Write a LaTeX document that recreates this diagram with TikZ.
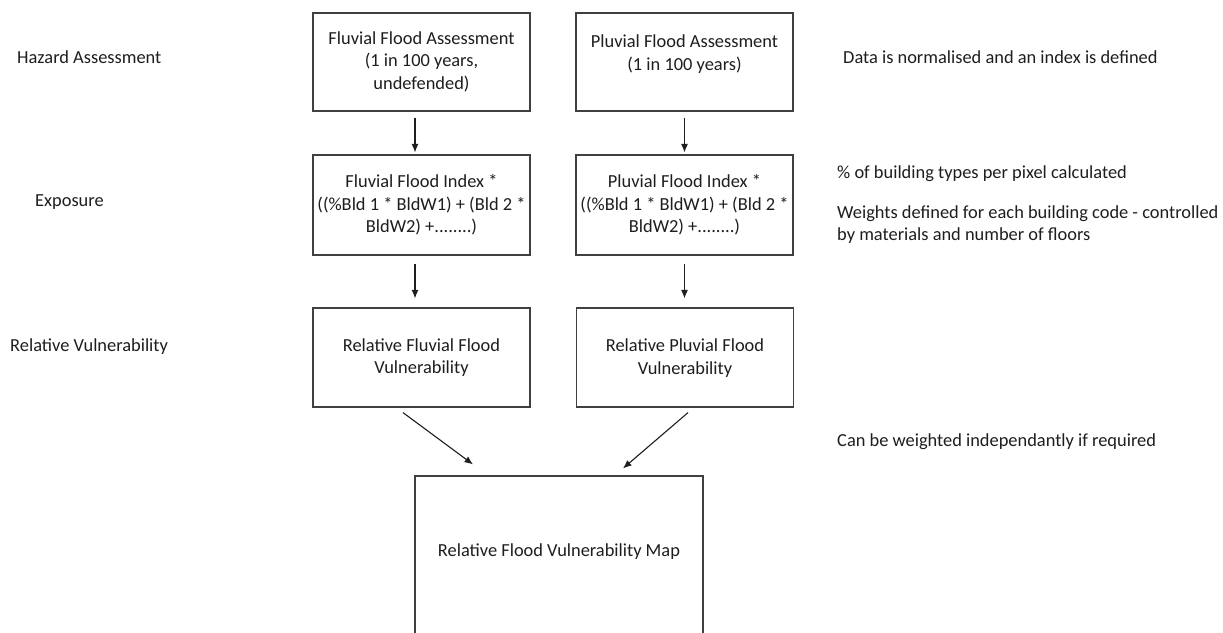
\documentclass[tikz,border=0pt]{standalone}
\usepackage{fontspec}
\setmainfont{Carlito}
\usetikzlibrary{arrows.meta,calc}
\definecolor{edge}{HTML}{404040}
\definecolor{ink}{HTML}{1E1E1E}
\begin{document}
\begin{tikzpicture}[x=1pt,y=-1pt,
  font=\fontsize{18.4}{22.5}\selectfont,
  box/.style={draw=edge, line width=1.2pt, minimum width=217pt, minimum height=98pt, inner sep=0pt, align=center, text=ink},
  lab/.style={anchor=base west, inner sep=0pt, text=ink},
  arr/.style={draw=ink, line width=1.1pt, -{Latex[length=8.5pt,width=7pt]}}]
\useasboundingbox (0,0) rectangle (1223,632);
\fill[white] (0,0) rectangle (1223,632);
% boxes
\node[box] (b1) at (421.5,62) {\rule{0pt}{6pt}\\[-16pt]Fluvial Flood Assessment\\(1 in 100 years,\\undefended)};
\node[box] (b2) at (684.5,62) {Pluvial Flood Assessment\\(1 in 100 years)\\[-10pt]\strut};
\node[box, minimum height=100pt] (b3) at (421.5,205) {Fluvial Flood Index *\\((\%Bld 1 * BldW1) + (Bld 2 *\\BldW2) +........)};
\node[box, minimum height=100pt] (b4) at (684.5,205) {Pluvial Flood Index *\\((\%Bld 1 * BldW1) + (Bld 2 *\\BldW2) +........)};
\node[box, minimum height=99pt] (b5) at (421.5,357.5) {Relative Fluvial Flood\\Vulnerability};
\node[box, minimum height=99pt, text depth=2pt] (b6) at (685,357.5) {Relative Pluvial Flood\\Vulnerability};
\begin{scope}
\clip (0,0) rectangle (1223,632);
\node[box, minimum width=288pt, minimum height=160pt, text depth=12pt] (b7) at (559,556) {Relative Flood Vulnerability Map};
\end{scope}
% connectors
\draw[arr, shorten <=6pt, shorten >=2pt] ([xshift=-6.5pt]b1.south) -- ([xshift=-6.5pt]b3.north);
\draw[arr, shorten <=6pt, shorten >=2pt] (b2.south) -- (b4.north);
\draw[arr, shorten <=8pt, shorten >=9pt] ([xshift=-6.5pt]b3.south) -- ([xshift=-6.5pt]b5.north);
\draw[arr, shorten <=8pt, shorten >=9pt] (b4.south) -- ([xshift=-0.5pt]b6.north);
\draw[arr] ($(b5.south)+(-18.5,5)$) -- ($(b7.north)+(-86,-11)$);
\draw[arr] ($(b6.south)+(3,5)$) -- ($(b7.north)+(64,-7)$);
% side labels
\node[lab] (h1) at (17,63) {Hazard Assessment};
\node[lab] (h2) at (35,206) {Exposure};
\node[lab] (h3) at (10,351) {Relative Vulnerability};
\node[lab] (r1) at (843,63) {Data is normalised and an index is defined};
\node[lab] (r2) at (837,178) {\% of building types per pixel calculated};
\node[lab] (r3) at (837,218) {Weights defined for each building code - controlled};
\node[lab] (r4) at (837,240) {by materials and number of floors};
\node[lab] (r5) at (837,446) {Can be weighted independantly if required};
\end{tikzpicture}
\end{document}
